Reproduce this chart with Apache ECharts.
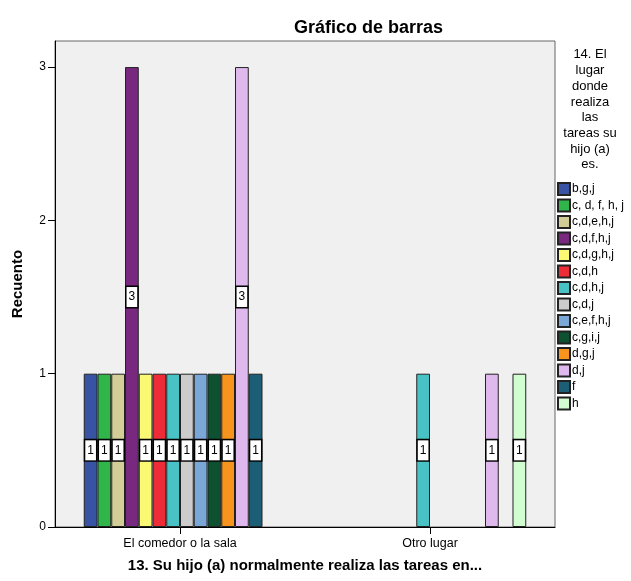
<!DOCTYPE html>
<html>
<head>
<meta charset="utf-8">
<script src="https://cdn.jsdelivr.net/npm/echarts@6/dist/echarts.min.js"></script>
<style>
  html, body { margin: 0; padding: 0; background: #fff; }
  #chart { width: 631px; height: 581px; }
</style>
</head>
<body>
<div id="chart"></div>
<script>
// categorias del eje x
var categorias = ['El comedor o la sala', 'Otro lugar'];
// grupos de la leyenda
var grupos = ['b,g,j', 'c, d, f, h, j', 'c,d,e,h,j', 'c,d,f,h,j', 'c,d,g,h,j', 'c,d,h', 'c,d,h,j',
    'c,d,j', 'c,e,f,h,j', 'c,g,i,j', 'd,g,j', 'd,j', 'f', 'h'];
var colores = ['#3953a4', '#2fb54a', '#d3ce97', '#79287f', '#fbf873', '#ed2c38', '#48c2c5',
    '#cccccc', '#7ba7d7', '#0d5131', '#f7941e', '#dfb9ee', '#1b5e76', '#d1fdd1'];
// recuento por grupo: [comedor, otro lugar]
var recuentos = [
    [1, null], [1, null], [1, null], [3, null], [1, null], [1, null], [1, 1],
    [1, null], [1, null], [1, null], [1, null], [3, 1], [1, null], [null, 1]
];
var ticksY = [0, 1, 2, 3];

var fuente = '"Liberation Sans", Arial, sans-serif';

var series = grupos.map(function (g, i) {
    return {
        name: g,
        type: 'bar',
        data: recuentos[i],
        barGap: 0,
        barCategoryGap: '23%',
        itemStyle: {color: colores[i], borderColor: '#222', borderWidth: 1},
        label: {
            show: true,
            position: 'inside',
            color: '#000',
            fontFamily: fuente,
            fontSize: 12,
            backgroundColor: '#fff',
            borderColor: '#000',
            borderWidth: 1.5,
            padding: [4, 2]
        },
        emphasis: {disabled: true}
    };
});

var chart = echarts.init(document.getElementById('chart'));
chart.setOption({
    animation: false,
    textStyle: {fontFamily: fuente},
    title: {
        text: 'Gráfico de barras',
        left: 289,
        top: 14,
        textStyle: {fontSize: 18, fontWeight: 'bold', color: '#000', fontFamily: fuente}
    },
    graphic: [{
        type: 'text',
        x: 590,
        y: 47,
        style: {
            text: '14. El\nlugar\ndonde\nrealiza\nlas\ntareas su\nhijo (a)\nes.',
            align: 'center',
            font: '13px ' + fuente,
            lineHeight: 15.7,
            fill: '#000'
        }
    }],
    legend: {
        orient: 'vertical',
        left: 552,
        top: 177,
        itemWidth: 12,
        itemHeight: 12,
        itemGap: 2.5,
        icon: 'rect',
        textStyle: {fontSize: 12, color: '#000', fontFamily: fuente, padding: [0, 0, 0, -3]},
        data: grupos
    },
    grid: {
        left: 55,
        right: 76,
        top: 41,
        bottom: 54,
        show: true,
        backgroundColor: '#f0f0f0',
        borderColor: '#666',
        borderWidth: 1
    },
    xAxis: {
        type: 'category',
        data: categorias,
        name: '13. Su hijo (a) normalmente realiza las tareas en...',
        nameLocation: 'middle',
        nameGap: 31,
        nameTextStyle: {fontSize: 15, fontWeight: 'bold', color: '#000', fontFamily: fuente},
        axisLine: {lineStyle: {color: '#000', width: 1}},
        axisTick: {show: true, alignWithLabel: true, length: 7, lineStyle: {color: '#000', width: 1}},
        axisLabel: {color: '#000', fontSize: 12.5, margin: 10}
    },
    yAxis: {
        type: 'value',
        min: 0,
        max: 3.17,
        interval: 1,
        name: 'Recuento',
        nameLocation: 'middle',
        nameGap: 30,
        nameTextStyle: {fontSize: 15, fontWeight: 'bold', color: '#000', fontFamily: fuente},
        axisLine: {show: true, lineStyle: {color: '#000', width: 1}},
        axisTick: {show: true, length: 7, customValues: ticksY, lineStyle: {color: '#000'}},
        axisLabel: {color: '#000', fontSize: 12, margin: 9, customValues: ticksY},
        splitLine: {show: false}
    },
    series: series
});
</script>
</body>
</html>
